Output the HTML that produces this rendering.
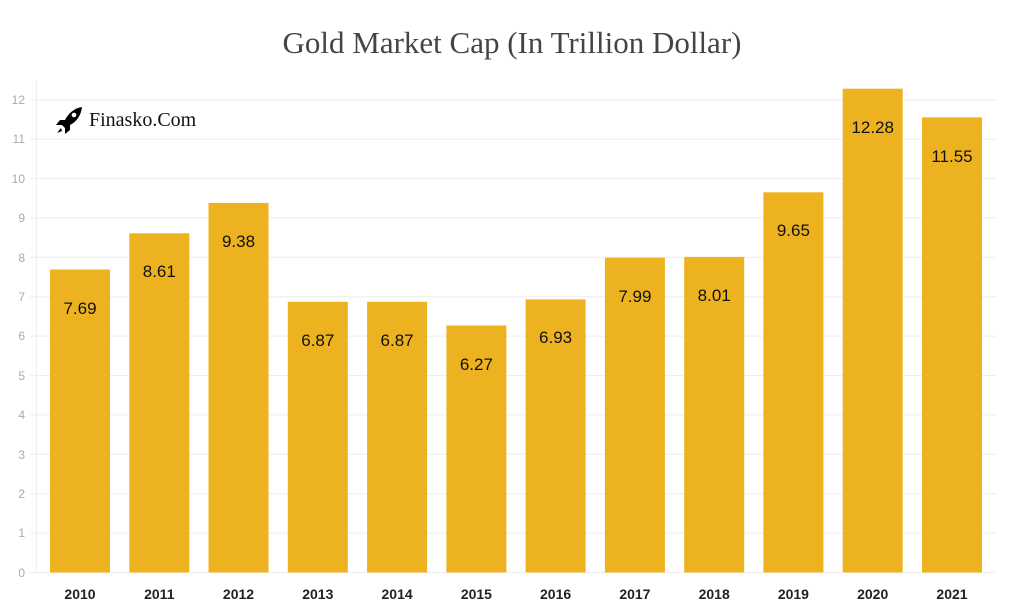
<!DOCTYPE html>
<html><head><meta charset="utf-8"><style>
html,body{margin:0;padding:0;background:#fff;}
</style></head><body>
<svg width="1024" height="610" xmlns="http://www.w3.org/2000/svg" style="display:block">
<text x="512" y="53" text-anchor="middle" font-family="Liberation Serif, serif" font-size="31" fill="#444">Gold Market Cap (In Trillion Dollar)</text>
<line x1="36.5" y1="80" x2="36.5" y2="573" stroke="#eee" stroke-width="1"/>
<g stroke="#eeeeee" stroke-width="1">
<line x1="30" x2="996" y1="572.5" y2="572.5"/>
<line x1="30" x2="996" y1="533.1" y2="533.1"/>
<line x1="30" x2="996" y1="493.7" y2="493.7"/>
<line x1="30" x2="996" y1="454.3" y2="454.3"/>
<line x1="30" x2="996" y1="414.9" y2="414.9"/>
<line x1="30" x2="996" y1="375.5" y2="375.5"/>
<line x1="30" x2="996" y1="336.1" y2="336.1"/>
<line x1="30" x2="996" y1="296.7" y2="296.7"/>
<line x1="30" x2="996" y1="257.3" y2="257.3"/>
<line x1="30" x2="996" y1="217.9" y2="217.9"/>
<line x1="30" x2="996" y1="178.5" y2="178.5"/>
<line x1="30" x2="996" y1="139.1" y2="139.1"/>
<line x1="30" x2="996" y1="99.7" y2="99.7"/>
</g>
<g font-family="Liberation Sans, sans-serif" font-size="12" fill="#aaa" text-anchor="end">
<text x="25" y="577">0</text><text x="25" y="537">1</text><text x="25" y="498">2</text><text x="25" y="459">3</text><text x="25" y="419">4</text><text x="25" y="380">5</text><text x="25" y="340">6</text><text x="25" y="301">7</text><text x="25" y="262">8</text><text x="25" y="222">9</text><text x="25" y="183">10</text><text x="25" y="143">11</text><text x="25" y="104">12</text>
</g>
<g fill="#edb21f">
<rect x="50" y="269.5" width="60" height="303"/>
<rect x="129.3" y="233.3" width="60" height="339.2"/>
<rect x="208.5" y="202.9" width="60" height="369.6"/>
<rect x="287.8" y="301.8" width="60" height="270.7"/>
<rect x="367.1" y="301.8" width="60" height="270.7"/>
<rect x="446.4" y="325.5" width="60" height="247"/>
<rect x="525.6" y="299.4" width="60" height="273.1"/>
<rect x="604.9" y="257.7" width="60" height="314.8"/>
<rect x="684.2" y="256.9" width="60" height="315.6"/>
<rect x="763.4" y="192.3" width="60" height="380.2"/>
<rect x="842.7" y="88.7" width="60" height="483.8"/>
<rect x="922" y="117.4" width="60" height="455.1"/>
</g>
<g font-family="Liberation Sans, sans-serif" font-size="17" fill="#111" text-anchor="middle">
<text x="80" y="314">7.69</text>
<text x="159.3" y="277">8.61</text>
<text x="238.5" y="247">9.38</text>
<text x="317.8" y="346">6.87</text>
<text x="397.1" y="346">6.87</text>
<text x="476.4" y="370">6.27</text>
<text x="555.6" y="343">6.93</text>
<text x="634.9" y="302">7.99</text>
<text x="714.2" y="301">8.01</text>
<text x="793.4" y="236">9.65</text>
<text x="872.7" y="133">12.28</text>
<text x="952" y="162">11.55</text>
</g>
<g font-family="Liberation Sans, sans-serif" font-size="14" font-weight="bold" fill="#222" text-anchor="middle">
<text x="80" y="599">2010</text><text x="159.3" y="599">2011</text><text x="238.5" y="599">2012</text><text x="317.8" y="599">2013</text><text x="397.1" y="599">2014</text><text x="476.4" y="599">2015</text><text x="555.6" y="599">2016</text><text x="634.9" y="599">2017</text><text x="714.2" y="599">2018</text><text x="793.4" y="599">2019</text><text x="872.7" y="599">2020</text><text x="952" y="599">2021</text>
</g>
<g transform="translate(56,106)">
<path d="M26 1 C18 2 12 8 9 14 L4 14 L0 19 L6 19 L9 22 L9 28 L14 24 L14 19 C20 16 25 10 26 1 Z" fill="#000"/>
<circle cx="18" cy="9" r="2.3" fill="#fff"/>
<path d="M5 22 L1 27 L6 25 Z" fill="#000"/>
</g>
<text x="89" y="126" font-family="Liberation Serif, serif" font-size="20" fill="#111">Finasko.Com</text>
</svg>
</body></html>
